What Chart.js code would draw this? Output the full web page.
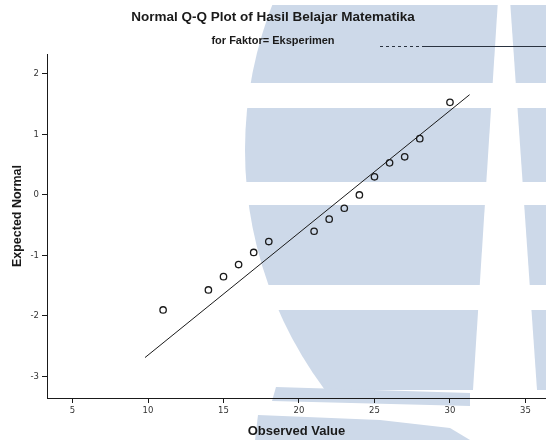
<!DOCTYPE html>
<html>
<head>
<meta charset="utf-8">
<title>Normal Q-Q Plot of Hasil Belajar Matematika</title>
<script src="https://cdn.jsdelivr.net/npm/chart.js@4.4.1/dist/chart.umd.min.js"></script>
<style>
  html, body { margin: 0; padding: 0; background: #ffffff; }
  #wrap { width: 546px; height: 440px; position: relative; }
</style>
</head>
<body>
<div id="wrap"><canvas id="qq" width="546" height="440"></canvas></div>
<script>
// Observed scores (group: Eksperimen) and their expected normal quantiles
const observed = [11, 14, 15, 16, 17, 18, 21, 22, 23, 24, 25, 26, 27, 28, 30];
const expectedNormal = [-1.90, -1.57, -1.35, -1.15, -0.95, -0.77, -0.60, -0.40, -0.22, 0.00, 0.30, 0.53, 0.63, 0.93, 1.53];

// Reference line: z = (x - mean) / sd, drawn between these observed values
const refMean = 23.1;
const refSd = 4.95;
const refLineX = [9.8, 31.3];

// Axis ticks
const xTicks = [5, 10, 15, 20, 25, 30, 35];
const yTicks = [-3, -2, -1, 0, 1, 2];

const points = observed.map((x, i) => ({ x: x, y: expectedNormal[i] }));
const refLine = refLineX.map(x => ({ x: x, y: (x - refMean) / refSd }));

const INK = '#1a1a1a';
const WASH = '#cdd9e9';
const FONT = 'Liberation Sans, Arial, sans-serif';

// Light institutional watermark behind the plot
const watermark = {
  id: 'watermark',
  beforeDraw(chart) {
    const ctx = chart.ctx;
    const W = chart.width, H = chart.height;
    ctx.save();
    ctx.fillStyle = '#ffffff';
    ctx.fillRect(0, 0, W, H);
    ctx.fillStyle = WASH;

    // globe bands clipped to a large disc
    ctx.save();
    ctx.beginPath();
    ctx.arc(645, 150, 400, 0, Math.PI * 2);
    ctx.clip();
    const bands = [[5, 83], [108, 182], [205, 285], [310, 390]];
    const xl = y => 498 - 25 * y / 390;
    const xr = y => 510 + 27 * y / 390;
    bands.forEach(([y1, y2]) => {
      ctx.beginPath();
      ctx.moveTo(0, y1); ctx.lineTo(xl(y1), y1); ctx.lineTo(xl(y2), y2); ctx.lineTo(0, y2);
      ctx.closePath(); ctx.fill();
      ctx.beginPath();
      ctx.moveTo(xr(y1), y1); ctx.lineTo(W, y1); ctx.lineTo(W, y2); ctx.lineTo(xr(y2), y2);
      ctx.closePath(); ctx.fill();
    });
    ctx.restore();

    // lower swoosh strips
    ctx.beginPath();
    ctx.moveTo(276, 387); ctx.lineTo(470, 393); ctx.lineTo(470, 406); ctx.lineTo(272, 401);
    ctx.closePath(); ctx.fill();
    ctx.beginPath();
    ctx.moveTo(258, 415); ctx.lineTo(380, 420); ctx.lineTo(450, 428); ctx.lineTo(470, 440); ctx.lineTo(255, 440);
    ctx.closePath(); ctx.fill();
    ctx.restore();
  },
  afterDraw(chart) {
    // frame rule under the subtitle
    const ctx = chart.ctx;
    ctx.save();
    ctx.strokeStyle = '#2a3340';
    ctx.lineWidth = 1;
    ctx.beginPath();
    ctx.moveTo(425, 46.5); ctx.lineTo(chart.width, 46.5);
    ctx.stroke();
    ctx.setLineDash([3, 3]);
    ctx.beginPath();
    ctx.moveTo(380, 46.5); ctx.lineTo(425, 46.5);
    ctx.stroke();
    ctx.restore();
  }
};

new Chart(document.getElementById('qq'), {
  type: 'scatter',
  data: {
    datasets: [
      {
        label: 'Observed',
        data: points,
        showLine: false,
        pointStyle: 'circle',
        pointRadius: 3.2,
        pointBorderWidth: 1.3,
        pointBorderColor: INK,
        pointBackgroundColor: 'rgba(0,0,0,0)'
      },
      {
        label: 'Normal line',
        data: refLine,
        showLine: true,
        borderColor: INK,
        borderWidth: 1,
        pointRadius: 0,
        fill: false
      }
    ]
  },
  plugins: [watermark],
  options: {
    responsive: false,
    animation: false,
    devicePixelRatio: 1,
    layout: { autoPadding: false, padding: { left: 0, right: 0, top: 0, bottom: 0 } },
    plugins: {
      legend: { display: false },
      tooltip: { enabled: false },
      title: {
        display: true,
        text: 'Normal Q-Q Plot of Hasil Belajar Matematika',
        color: INK,
        font: { family: FONT, size: 13.5, weight: 'bold', lineHeight: 1.2 },
        padding: { top: 9, bottom: 9 }
      },
      subtitle: {
        display: true,
        text: 'for Faktor= Eksperimen',
        color: INK,
        font: { family: FONT, size: 11, weight: 'bold', lineHeight: 1.2 },
        padding: { top: 0, bottom: 7.5 }
      }
    },
    scales: {
      x: {
        type: 'linear',
        min: 3.31,
        max: 36.36,
        afterBuildTicks(scale) { scale.ticks = xTicks.map(v => ({ value: v })); },
        afterFit(scale) { scale.height = 42; },
        border: { display: true, color: INK, width: 1 },
        grid: { drawOnChartArea: false, drawTicks: true, tickLength: 5, color: INK },
        ticks: {
          color: '#333',
          font: { family: 'DejaVu Sans, sans-serif', size: 8.5 },
          padding: 3,
          maxRotation: 0,
          autoSkip: false
        },
        title: {
          display: true,
          text: 'Observed Value',
          color: INK,
          font: { family: FONT, size: 13, weight: 'bold', lineHeight: 1.2 },
          padding: { top: 0, bottom: 0.5 }
        }
      },
      y: {
        type: 'linear',
        min: -3.355,
        max: 2.314,
        afterBuildTicks(scale) { scale.ticks = yTicks.map(v => ({ value: v })); },
        afterFit(scale) { scale.width = 47; },
        border: { display: true, color: INK, width: 1 },
        grid: { drawOnChartArea: false, drawTicks: true, tickLength: 5, color: INK },
        ticks: {
          color: '#333',
          font: { family: 'DejaVu Sans, sans-serif', size: 8.5 },
          padding: 3,
          autoSkip: false
        },
        title: {
          display: true,
          text: '      Expected Normal',
          color: INK,
          font: { family: FONT, size: 12.5, weight: 'bold', lineHeight: 1.2 },
          padding: { top: 10.5, bottom: 0 }
        }
      }
    }
  }
});
</script>
</body>
</html>
